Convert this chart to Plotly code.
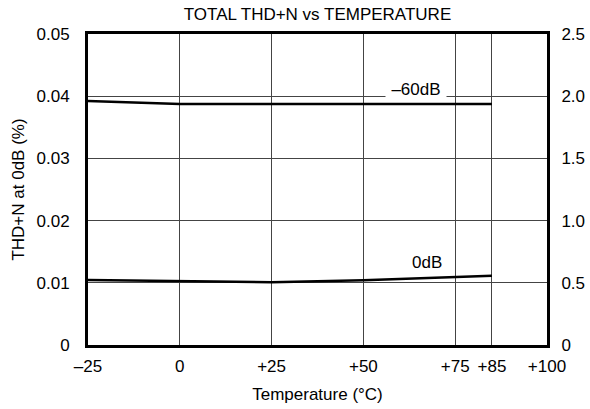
import plotly.graph_objects as go

temps = [-25, 0, 25, 50, 75, 85]
thd_0db = [0.01045, 0.01024, 0.0101, 0.0104, 0.01093, 0.01114]
thd_m60db_right = [1.961, 1.9375, 1.9375, 1.9375, 1.9375, 1.9375]

x_tickvals = [-25, 0, 25, 50, 75, 85, 100]
x_ticktext = ["\u201325", "0", "+25", "+50", "+75", "+85", "+100"]
y_tickvals = [0, 0.01, 0.02, 0.03, 0.04, 0.05]
y_ticktext = ["0", "0.01", "0.02", "0.03", "0.04", "0.05"]
y2_tickvals = [0, 0.5, 1.0, 1.5, 2.0, 2.5]
y2_ticktext = ["0", "0.5", "1.0", "1.5", "2.0", "2.5"]

FS = 17
fig = go.Figure()
fig.add_trace(go.Scatter(x=temps, y=thd_0db, mode="lines",
                         line=dict(color="black", width=2.5), yaxis="y", showlegend=False))
fig.add_trace(go.Scatter(x=temps, y=thd_m60db_right, mode="lines",
                         line=dict(color="black", width=2.5), yaxis="y2", showlegend=False))

fig.add_annotation(x=64.3, y=0.0412, xref="x", yref="y", text="\u201360dB", showarrow=False,
                   bgcolor="white", height=16, width=58, font=dict(size=FS, color="black"),
                   borderpad=1)
fig.add_annotation(x=67.3, y=0.0132, xref="x", yref="y", text="0dB", showarrow=False,
                   font=dict(size=FS, color="black"))

font_family = "Liberation Sans, Arial, Helvetica, sans-serif"
fig.update_layout(
    width=590, height=409,
    margin=dict(l=88, r=43, t=34, b=64),
    paper_bgcolor="white", plot_bgcolor="white",
    font=dict(family=font_family, size=FS, color="black"),
    title=dict(text="TOTAL THD+N vs TEMPERATURE", x=0.5, xanchor="center",
               xref="paper", y=0.966, yanchor="middle", font=dict(size=FS)),
    xaxis=dict(range=[-25, 100], tickvals=x_tickvals, ticktext=x_ticktext,
               showgrid=True, gridcolor="#444", gridwidth=1,
               showline=True, linecolor="black", linewidth=3, mirror=True,
               ticks="", zeroline=False, tickfont=dict(size=FS), automargin=False,
               ticklabelstandoff=4,
               title=dict(text="Temperature (\u00b0C)", font=dict(size=FS), standoff=13)),
    yaxis=dict(range=[0, 0.05], tickvals=y_tickvals, ticktext=y_ticktext,
               showgrid=True, gridcolor="#444", gridwidth=1,
               showline=True, linecolor="black", linewidth=3,
               ticks="", zeroline=False, tickfont=dict(size=FS), automargin=False,
               ticklabelstandoff=12,
               title=dict(text="THD+N at 0dB (%)", font=dict(size=FS), standoff=8)),
    yaxis2=dict(range=[0, 2.5], tickvals=y2_tickvals, ticktext=y2_ticktext,
                overlaying="y", side="right", showgrid=False,
                showline=True, linecolor="black", linewidth=3,
                ticks="", zeroline=False, tickfont=dict(size=FS), automargin=False,
                ticklabelstandoff=8),
)

fig.write_html("out.html", config={"displayModeBar": False},
               post_script="document.body.style.margin='0';document.body.style.overflow='hidden';")
